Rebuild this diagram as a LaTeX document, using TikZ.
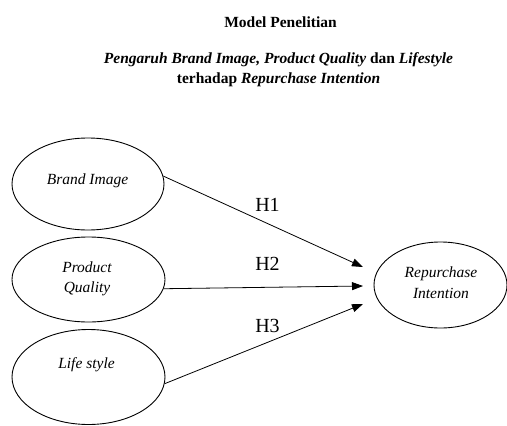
\documentclass[tikz,border=0pt]{standalone}
\usepackage{fontspec}
\setmainfont{Liberation Serif}
\usetikzlibrary{shapes.geometric,arrows.meta}

\tikzset{
  construct/.style={draw=black, line width=0.9pt, ellipse, inner sep=0pt},
  varlabel/.style={anchor=base, inner sep=0pt, font=\fontsize{15.5}{18}\selectfont\itshape},
  hyp/.style={anchor=base, inner sep=0pt, font=\fontsize{20}{24}\selectfont},
  path/.style={draw=black, line width=0.8pt, -{Triangle[length=11pt,width=8pt]}},
  heading/.style={anchor=base, inner sep=0pt, font=\fontsize{15.5}{18}\selectfont\bfseries}
}

\begin{document}
\begin{tikzpicture}[x=1pt, y=-1pt]
  \useasboundingbox (0,0) rectangle (507,426);

  % headings
  \node[heading] (t1) at (280.5,27) {Model Penelitian};
  \node[heading] (t2) at (278.5,63) {\itshape Pengaruh Brand Image, Product Quality \upshape dan \itshape Lifestyle};
  \node[heading] (t3) at (278.5,83) {terhadap \itshape Repurchase Intention};

  % constructs
  \node[construct, minimum width=152pt, minimum height=92pt] (bi) at (88,184) {};
  \node[construct, minimum width=153pt, minimum height=85pt] (pq) at (88.5,279.5) {};
  \node[construct, minimum width=153pt, minimum height=95pt] (ls) at (88.5,377) {};
  \node[construct, minimum width=133pt, minimum height=86pt] (ri) at (440.5,285) {};

  % construct names
  \node[varlabel] (biname) at (87.5,184) {Brand Image};
  \node[varlabel] (pqname1) at (87,272) {Product};
  \node[varlabel] (pqname2) at (87,292) {Quality};
  \node[varlabel] (lsname) at (86.5,368) {Life style};
  \node[varlabel] (riname1) at (441,277) {Repurchase};
  \node[varlabel] (riname2) at (441,298) {Intention};

  % arrow tips stop short of the dependent construct
  \coordinate (e1) at (363,267);
  \coordinate (e2) at (363,286);
  \coordinate (e3) at (363,304);

  \draw[path] (bi.6) -- (e1);
  \draw[path] (pq.-7.5) -- (e2);
  \draw[path] (ls.-5) -- (e3);

  % hypothesis labels
  \node[hyp] (h1) at (267.5,211.5) {H1};
  \node[hyp] (h2) at (267.5,270) {H2};
  \node[hyp] (h3) at (267.5,332) {H3};
\end{tikzpicture}
\end{document}
